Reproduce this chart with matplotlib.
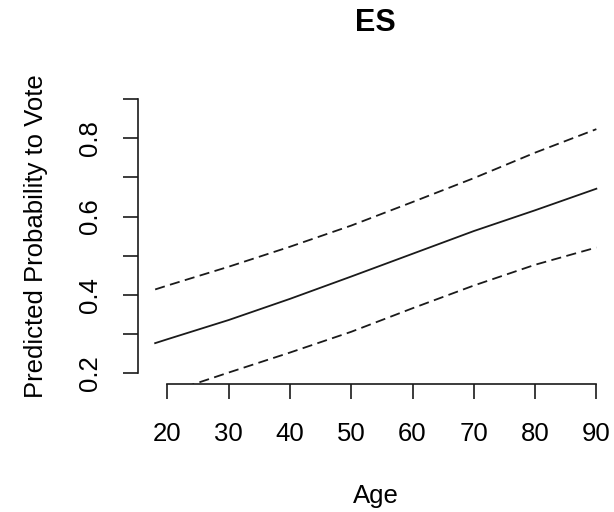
import matplotlib
matplotlib.use("Agg")
import matplotlib.pyplot as plt

plt.rcParams['font.family'] = ['Liberation Sans', 'DejaVu Sans']

# Predicted probability by age
age = [18, 20, 30, 40, 50, 60, 70, 80, 90]
fit = [0.277, 0.287, 0.336, 0.390, 0.447, 0.505, 0.563, 0.616, 0.671]
upper = [0.414, 0.424, 0.472, 0.523, 0.577, 0.637, 0.698, 0.763, 0.823]
lower = [0.140, 0.150, 0.202, 0.253, 0.306, 0.366, 0.424, 0.477, 0.521]

xticks = [20, 30, 40, 50, 60, 70, 80, 90]
yticks = [0.2, 0.3, 0.4, 0.5, 0.6, 0.7, 0.8, 0.9]
ylabels = ["0.2", "", "0.4", "", "0.6", "", "0.8", ""]

FS = 18.5
INK = '#1a1a1a'

fig = plt.figure(figsize=(6.14, 5.12), dpi=100)
ax = fig.add_axes([137.5 / 614, (512 - 384.3) / 512, (614 - 137.5) / 614, (384.3 - 88) / 512])

ax.plot(age, fit, color=INK, linewidth=1.3)
ax.plot(age, upper, color=INK, linewidth=1.3, linestyle=(0, (5.6, 3.0)))
ax.plot(age, lower, color=INK, linewidth=1.3, linestyle=(0, (5.6, 3.0)))

ax.set_xlim(15.12, 92.88)
ax.set_ylim(0.172, 0.928)

# R style axes: only the span of the ticks is drawn
for s in ['top', 'right']:
    ax.spines[s].set_visible(False)
ax.spines['left'].set_bounds(0.2, 0.9)
ax.spines['bottom'].set_bounds(20, 90)
for s in ['left', 'bottom']:
    ax.spines[s].set_linewidth(1.2)
    ax.spines[s].set_color(INK)

ax.set_xticks(xticks)
ax.set_xticklabels([str(t) for t in xticks])
ax.set_yticks(yticks)
ax.set_yticklabels(ylabels, rotation=90, va='center')
ax.tick_params(axis='both', direction='out', length=10.8, width=1.2, color=INK, labelsize=FS)
ax.tick_params(axis='x', pad=16)
ax.tick_params(axis='y', pad=15)

ax.set_xlabel("Age", fontsize=FS, labelpad=28)
ax.set_ylabel("Predicted Probability to Vote", fontsize=FS, labelpad=21)
ax.set_title("ES", fontsize=22, fontweight='bold', pad=41)

fig.savefig("out.png", dpi=100)
